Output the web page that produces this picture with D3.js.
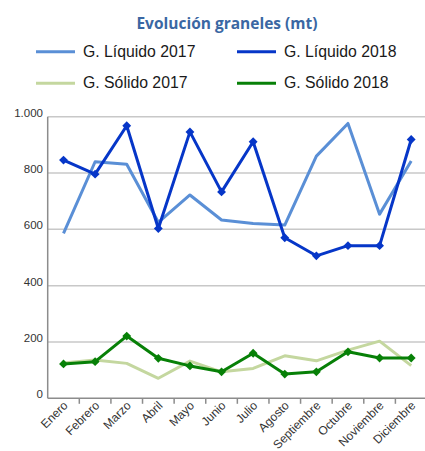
<!DOCTYPE html>
<html><head><meta charset="utf-8">
<script src="https://cdn.jsdelivr.net/npm/d3@7"></script>
<style>body{margin:0;background:#fff}svg{display:block}</style>
</head><body><svg id="c" width="425" height="451"></svg>
<script>
const months = ["Enero","Febrero","Marzo","Abril","Mayo","Junio","Julio","Agosto","Septiembre","Octubre","Noviembre","Diciembre"];
const liquido2017 = [586,840,831,625,722,633,621,615,860,976,654,843];
const liquido2018 = [846,796,968,603,946,733,911,570,506,542,542,919];
const solido2017 = [125,136,124,71,132,94,106,151,133,171,203,116];
const solido2018 = [122,130,221,142,115,94,160,86,94,165,143,143];
const yTicks = [0,200,400,600,800,1000];
const yTickLabels = ["0","200","400","600","800","1.000"];
const seriesNames = ["G. Líquido 2017","G. Líquido 2018","G. Sólido 2017","G. Sólido 2018"];

const svg = d3.select("#c");
const font = "'Liberation Sans', Arial, sans-serif";
const x = d3.scaleBand().domain(months).range([47.7, 427]);
const y = d3.scaleLinear().domain([0,1000]).range([398.3, 116.7]);

// title
svg.append("text").attr("x",227).attr("y",29).attr("text-anchor","middle")
  .attr("font-family","'Open Sans', sans-serif").attr("font-weight","bold").attr("font-size",15.5)
  .attr("fill","#3A67A3").text("Evolución graneles (mt)");

// gridlines
svg.append("g").selectAll("line").data(yTicks.filter(d=>d>0)).join("line")
  .attr("x1",47.7).attr("x2",425).attr("y1",d=>y(d)).attr("y2",d=>y(d))
  .attr("stroke","#C8C8C8").attr("stroke-width",1.5);

// y labels
svg.append("g").selectAll("text").data(yTicks).join("text")
  .attr("x",43).attr("y",d=>y(d)).attr("text-anchor","end")
  .attr("font-family",font).attr("font-size",11.5).attr("fill","#333")
  .text((d,i)=>yTickLabels[i]);

// axes lines
svg.append("line").attr("x1",47.7).attr("x2",47.7).attr("y1",y(1000)).attr("y2",y(0)).attr("stroke","#8C8C8C").attr("stroke-width",1.5);
svg.append("line").attr("x1",47.7).attr("x2",425).attr("y1",y(0)).attr("y2",y(0)).attr("stroke","#8C8C8C").attr("stroke-width",1.5);
// ticks
svg.append("g").selectAll("line").data(months.slice(1)).join("line")
  .attr("x1",d=>x(d)).attr("x2",d=>x(d)).attr("y1",y(0)).attr("y2",y(0)+5.5)
  .attr("stroke","#8C8C8C").attr("stroke-width",1.5);

// x labels
svg.append("g").selectAll("text").data(months).join("text")
  .attr("transform",d=>`translate(${x(d)+x.bandwidth()/2+5},${y(0)+8}) rotate(-45)`)
  .attr("text-anchor","end").attr("font-family",font).attr("font-size",12).attr("fill","#333")
  .text(d=>d);

const cx = d => x(d)+x.bandwidth()/2;
const series = [
  {name:seriesNames[0], vals:liquido2017, color:"#5A8FD6", marker:false},
  {name:seriesNames[2], vals:solido2017, color:"#C4D79F", marker:false},
  {name:seriesNames[1], vals:liquido2018, color:"#0636C8", marker:true},
  {name:seriesNames[3], vals:solido2018, color:"#078007", marker:true}
];
const line = d3.line().x(d=>cx(d.m)).y(d=>y(d.v));
series.forEach(s=>{
  const pts = months.map((m,i)=>({m,v:s.vals[i]}));
  svg.append("path").datum(pts).attr("d",line).attr("fill","none")
    .attr("stroke",s.color).attr("stroke-width",3).attr("stroke-linejoin","round");
  if(s.marker){
    svg.append("g").selectAll("path").data(pts).join("path")
      .attr("d",d3.symbol().type(d3.symbolDiamond2).size(50))
      .attr("transform",d=>`translate(${cx(d.m)},${y(d.v)})`)
      .attr("fill",s.color);
  }
});

// legend
const leg = [
  {name:seriesNames[0], color:"#5A8FD6", lx:36, ly:51.7},
  {name:seriesNames[1], color:"#0636C8", lx:237, ly:51.7},
  {name:seriesNames[2], color:"#C4D79F", lx:36, ly:83.3},
  {name:seriesNames[3], color:"#078007", lx:237, ly:83.3}
];
leg.forEach(l=>{
  svg.append("line").attr("x1",l.lx).attr("x2",l.lx+39).attr("y1",l.ly).attr("y2",l.ly)
    .attr("stroke",l.color).attr("stroke-width",3);
  svg.append("text").attr("x",l.lx+47).attr("y",l.ly+5)
    .attr("font-family",font).attr("font-size",15.8).attr("fill","#1a1a1a").text(l.name);
});
</script></body></html>
